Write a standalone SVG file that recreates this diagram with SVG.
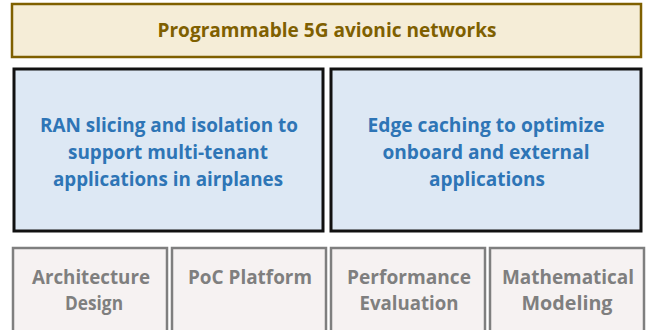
<svg xmlns="http://www.w3.org/2000/svg" width="652" height="330" viewBox="0 0 652 330">
<style>
text{font-family:"Open Sans","Liberation Sans",sans-serif;font-weight:bold;text-anchor:middle;dominant-baseline:central}
.top rect{fill:#f5edd7;stroke:#7f6000;stroke-width:2.5}
.top text{fill:#7f6000;font-size:19px}
.mid rect{fill:#dde8f4;stroke:#111;stroke-width:3}
.mid text{fill:#2e75b6;font-size:20px}
.bot rect{fill:#f6f2f2;stroke:#7f7f7f;stroke-width:2.5}
.bot text{fill:#7f7f7f;font-size:20px}
</style>
<rect width="652" height="330" fill="#fff"/>
<g id="n-top" class="top">
<rect x="12" y="4" width="629" height="53"/>
<text x="327" y="30" textLength="339" lengthAdjust="spacingAndGlyphs">Programmable 5G avionic networks</text>
</g>
<g id="n-ran" class="mid">
<rect x="14" y="69" width="309" height="162"/>
<text x="169" y="124" textLength="258" lengthAdjust="spacingAndGlyphs">RAN slicing and isolation to</text>
<text x="168" y="151" textLength="200" lengthAdjust="spacingAndGlyphs">support multi-tenant</text>
<text x="168" y="178" textLength="230" lengthAdjust="spacingAndGlyphs">applications in airplanes</text>
</g>
<g id="n-edge" class="mid">
<rect x="331" y="69" width="310" height="162"/>
<text x="486" y="124" textLength="237" lengthAdjust="spacingAndGlyphs">Edge caching to optimize</text>
<text x="486" y="151" textLength="207" lengthAdjust="spacingAndGlyphs">onboard and external</text>
<text x="487" y="178" textLength="116" lengthAdjust="spacingAndGlyphs">applications</text>
</g>
<g id="n-arch" class="bot">
<rect x="13" y="248" width="154" height="84"/>
<text x="91" y="276" textLength="118" lengthAdjust="spacingAndGlyphs">Architecture</text>
<text x="94" y="302" textLength="58" lengthAdjust="spacingAndGlyphs">Design</text>
</g>
<g id="n-poc" class="bot">
<rect x="172" y="248" width="154" height="84"/>
<text x="250" y="276" textLength="124" lengthAdjust="spacingAndGlyphs">PoC Platform</text>
</g>
<g id="n-perf" class="bot">
<rect x="331" y="248" width="154" height="84"/>
<text x="409" y="276" textLength="124" lengthAdjust="spacingAndGlyphs">Performance</text>
<text x="409" y="302" textLength="99" lengthAdjust="spacingAndGlyphs">Evaluation</text>
</g>
<g id="n-math" class="bot">
<rect x="490" y="248" width="154" height="84"/>
<text x="568" y="276" textLength="132" lengthAdjust="spacingAndGlyphs">Mathematical</text>
<text x="567" y="302" textLength="91" lengthAdjust="spacingAndGlyphs">Modeling</text>
</g>
<g id="connectors"/>
</svg>
